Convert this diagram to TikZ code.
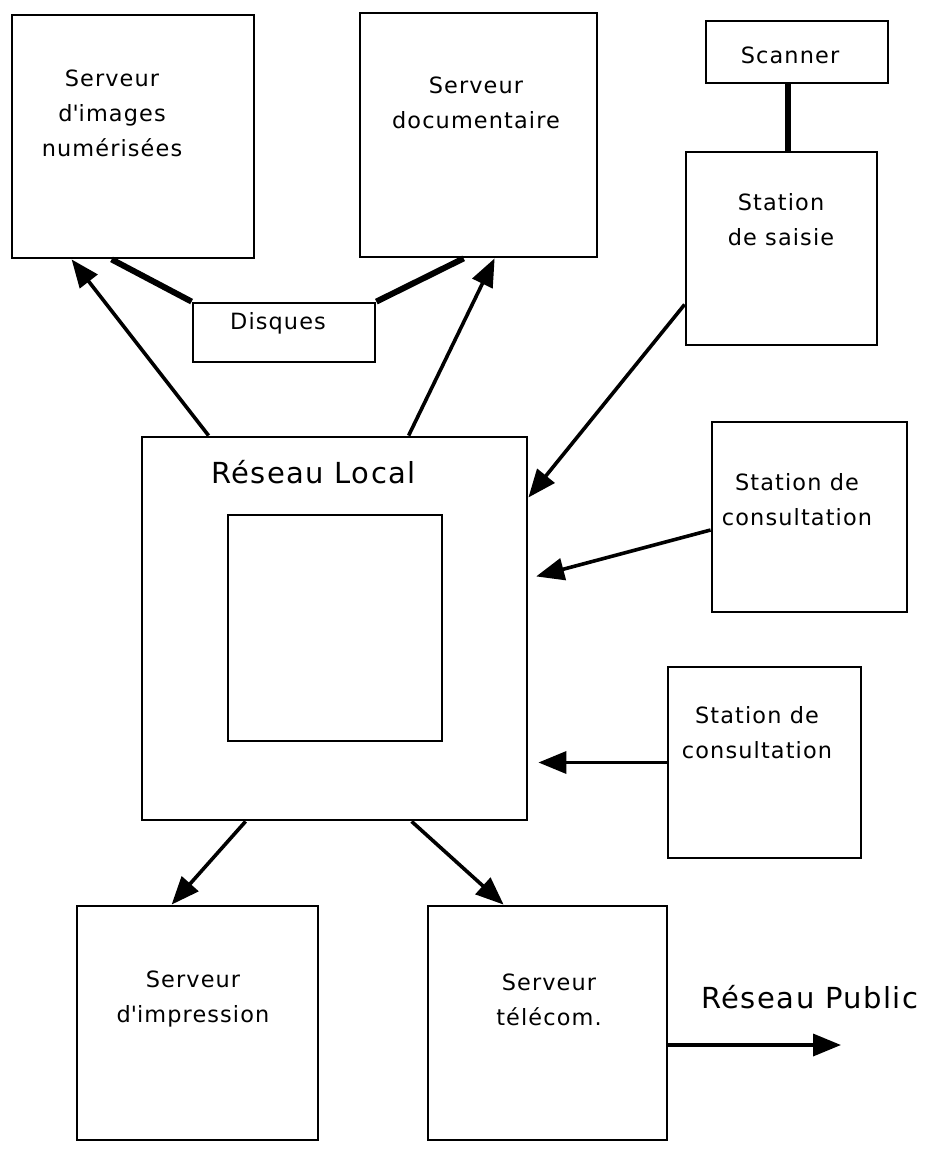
\documentclass[tikz,border=0pt]{standalone}
\usepackage{fontspec}
\setmainfont{DejaVu Sans}[LetterSpace=5]
\usetikzlibrary{arrows.meta}

\tikzset{
    unit/.style={draw, line width=1.4pt, inner sep=0pt},
    lbl/.style={align=center, inner sep=0pt, font=\fontsize{11.2}{17.5}\selectfont},
    biglbl/.style={inner sep=0pt, font=\fontsize{14.5}{17}\selectfont},
    link/.style={line width=1.8pt, -{Triangle[length=14pt,width=11pt]}},
    bus/.style={line width=3pt}
}

\begin{document}
\begin{tikzpicture}[x=0.5pt,y=-0.5pt]
    \useasboundingbox (0,0) rectangle (928,1149);

    \node[unit, minimum width=121pt, minimum height=121.5pt] (imgsrv) at (133,136.5) {};
    \node[unit, minimum width=118.5pt, minimum height=122pt] (docsrv) at (478.5,135) {};
    \node[unit, minimum width=91pt, minimum height=31pt] (scanner) at (797,52) {};
    \node[unit, minimum width=95.5pt, minimum height=96.5pt] (saisie) at (781.5,248.5) {};
    \node[unit, minimum width=91pt, minimum height=29.5pt] (disques) at (284,332.5) {};
    \node[unit, minimum width=192.5pt, minimum height=191.5pt] (reseau) at (334.5,628.5) {};
    \node[unit, minimum width=107pt, minimum height=113pt] (coeur) at (335,628) {};
    \node[unit, minimum width=97.5pt, minimum height=95pt] (consultA) at (809.5,517) {};
    \node[unit, minimum width=96.5pt, minimum height=95.5pt] (consultB) at (764.5,762.5) {};
    \node[unit, minimum width=120.5pt, minimum height=117pt] (impr) at (197.5,1023) {};
    \node[unit, minimum width=119.5pt, minimum height=117pt] (telecom) at (547.5,1023) {};

    \node[lbl] (imgsrv-t) at (112,113) {Serveur\\d\textquotesingle images\\numérisées};
    \node[lbl] (docsrv-t) at (476,102.5) {Serveur\\documentaire};
    \node[lbl] (scanner-t) at (790,55) {Scanner};
    \node[lbl] (saisie-t) at (781,219.5) {Station\\de saisie};
    \node[lbl] (disques-t) at (278,323) {Disques};
    \node[biglbl] (reseau-t) at (313.5,472) {Réseau Local};
    \node[lbl] (consultA-t) at (797,499.5) {Station de\\consultation};
    \node[lbl] (consultB-t) at (757,732.5) {Station de\\consultation};
    \node[lbl] (impr-t) at (193,999.5) {Serveur\\d\textquotesingle impression};
    \node[lbl] (telecom-t) at (549,999.5) {Serveur\\télécom.};
    \node[biglbl, anchor=west] (public) at (701,997) {Réseau Public};
    \coordinate (pubend) at (841,1045);

    \draw[bus] (disques.north west) -- ([xshift=50.5pt]imgsrv.south west);
    \draw[bus] (disques.north east) -- ([xshift=52.5pt]docsrv.south west);
    \draw[bus] ([xshift=-4.5pt]scanner.south) -- ([xshift=-4.5pt]scanner.south |- saisie.north);

    \draw[link] ([xshift=34pt]reseau.north west) -- ([xshift=30.5pt]imgsrv.south west);
    \draw[link] ([xshift=134pt]reseau.north west) -- ([xshift=68pt]docsrv.south west);
    \draw[link] ([yshift=-28pt]saisie.west) -- ([yshift=65.5pt]reseau.east);
    \draw[link, shorten >=4pt] ([yshift=-6.5pt]consultA.west) -- ([yshift=25pt]reseau.east);
    \draw[link, shorten >=5pt] (consultB.west) -- (reseau.east |- consultB.west);
    \draw[link] ([xshift=52.5pt]reseau.south west) -- ([xshift=48pt]impr.north west);
    \draw[link] ([xshift=135.5pt]reseau.south west) -- ([xshift=38.5pt]telecom.north west);
    \draw[link] ([yshift=-11pt]telecom.east) -- (pubend);
\end{tikzpicture}
\end{document}
